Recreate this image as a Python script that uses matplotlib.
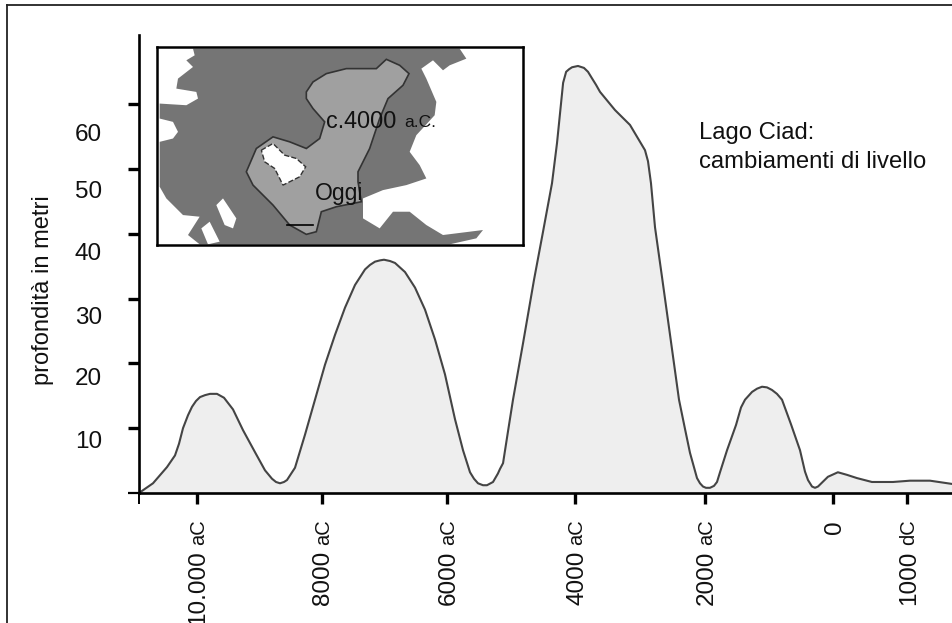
import numpy as np
import matplotlib
matplotlib.use('Agg')
import matplotlib.pyplot as plt
from matplotlib.lines import Line2D
from matplotlib.patches import Polygon

plt.rcParams['font.family'] = ['Liberation Sans', 'DejaVu Sans']

W, H = 952, 623

# lake level curve: year (negative = aC) and depth in metres
years = [-10920, -10696, -10472, -10344, -10280, -10216, -10136, -10072, -10008, -9944, -9864, -9784,
         -9672, -9560, -9416, -9256, -9064, -8904, -8792, -8728, -8664, -8600, -8552, -8424,
         -8264, -8104, -7944, -7784, -7624, -7464, -7304, -7224, -7144, -7064, -7000, -6904, -6824,
         -6664, -6504, -6344, -6184, -6024, -5868, -5743, -5634, -5572, -5510, -5432, -5370,
         -5276, -5200, -5168, -5120, -5043, -4965, -4809, -4638, -4498, -4358, -4280,
         -4233, -4185, -4138, -4092, -4046, -4000, -3954, -3862, -3800, -3739, -3677, -3615, -3385, -3154,
         -2923, -2877, -2831, -2769, -2661, -2538, -2400, -2308, -2231, -2123, -2077, -2031,
         -1985, -1922, -1859, -1812, -1765, -1655, -1514, -1436, -1373, -1263, -1185, -1107, -1029, -951, -873, -794, -653,
         -512, -434, -387, -324, -277, -230, -168, -75, 70, 193, 328, 530,
         814, 1045, 1315, 1612]
depth = [0.0, 1.5, 4.0, 5.8, 7.6, 10.0, 12.0, 13.3, 14.2, 14.8, 15.1, 15.3,
         15.3, 14.7, 12.9, 9.7, 6.3, 3.5, 2.2, 1.7, 1.5, 1.7, 2.0, 3.9,
         9.0, 14.4, 19.8, 24.4, 28.6, 32.1, 34.5, 35.2, 35.7, 35.9, 36.0, 35.8, 35.5,
         34.1, 31.7, 28.3, 23.7, 18.3, 11.4, 6.6, 3.2, 2.2, 1.5, 1.2, 1.2,
         1.7, 3.0, 3.7, 4.6, 9.5, 14.4, 23.1, 32.9, 40.3, 47.8, 54.0,
         58.6, 63.3, 65.0, 65.4, 65.7, 65.8, 65.9, 65.6, 65.0, 64.0, 63.0, 61.9, 59.1, 56.8,
         52.9, 51.2, 47.8, 41.0, 33.3, 24.4, 14.4, 9.9, 6.2, 2.3, 1.5, 1.0,
         0.8, 0.8, 1.1, 1.7, 3.2, 6.6, 10.5, 13.2, 14.4, 15.6, 16.1, 16.4, 16.3, 15.9, 15.3, 14.4, 10.6,
         6.6, 3.3, 2.0, 1.0, 0.8, 1.0, 1.6, 2.5, 3.2, 2.8, 2.3, 1.7,
         1.7, 1.9, 1.9, 1.4]

# the time axis of the original is not quite linear
scale_years = [-10920, -10000, -8000, -6000, -4000, -2000, 0, 1000, 1612]
scale_px = [139, 196.5, 321.5, 446.5, 575, 705, 832.7, 906.7, 952]

x_ticks = [-10920, -10000, -8000, -6000, -4000, -2000, 0, 1000]
x_numbers = ['', '10.000', '8000', '6000', '4000', '2000', '0', '1000']
x_suffix = ['', 'aC', 'aC', 'aC', 'aC', 'aC', '', 'dC']

y_ticks = [0, 10, 20, 30, 40, 50, 60]
y_numbers = ['10', '20', '30', '40', '50', '60']
y_number_px = [442, 379, 318, 254, 192, 135]

# map sketch, outlines in the inset's own units
land = [(130, 40), (930, 40), (950, 70), (900, 90), (880, 105), (850, 75), (815, 100), (830, 130),
        (860, 200), (855, 240), (800, 300), (780, 350), (810, 390), (830, 430), (770, 450), (700, 465),
        (640, 490), (640, 550), (690, 580), (730, 530), (780, 530), (830, 570), (880, 600), (1000, 585),
        (980, 610), (900, 628), (150, 628), (115, 600), (150, 545), (100, 540), (50, 490), (30, 455),
        (30, 320), (70, 310), (85, 290), (70, 260), (30, 250), (30, 205), (110, 210), (145, 190),
        (140, 170), (80, 160), (85, 130), (130, 95), (110, 75), (135, 60)]
islet_a = [(200, 510), (220, 490), (260, 550), (250, 580), (225, 570)]
islet_b = [(155, 580), (180, 560), (210, 620), (175, 628)]
lake = [(470, 170), (490, 140), (530, 115), (590, 100), (680, 100), (710, 72), (750, 90), (778, 115),
        (760, 150), (715, 190), (690, 250), (660, 340), (625, 410), (625, 440), (635, 500), (560, 515),
        (515, 530), (500, 590), (470, 598), (420, 570), (370, 510), (310, 450), (290, 410), (320, 340),
        (370, 305), (420, 320), (470, 340), (510, 310), (525, 260), (490, 220), (470, 190)]
lake_hole = [(335, 345), (370, 325), (405, 360), (440, 370), (468, 395), (450, 425), (410, 445),
             (400, 450), (375, 400), (345, 380)]


def fx(x):
    return x / W


def fy(y):
    return 1 - y / H


def forward(v):
    return np.interp(v, scale_years, scale_px)


def inverse(v):
    return np.interp(v, scale_px, scale_years)


fig = plt.figure(figsize=(W / 100, H / 100), dpi=100)

# outer frame, cut off by the image at right and bottom
fig.add_artist(Line2D([fx(7), fx(7)], [fy(4.5), 0], color='#222222', lw=1.3))
fig.add_artist(Line2D([fx(7), 1], [fy(4.5), fy(4.5)], color='#222222', lw=1.3))

ax = fig.add_axes([fx(139), fy(493), fx(952 - 139), (493 - 35) / H])
ax.set_xscale('function', functions=(forward, inverse))
ax.set_xlim(-10920, 1612)
ax.set_ylim(0, (493 - 35) / 6.48)
ax.patch.set_alpha(0)

ax.fill_between(years, depth, 0, color='#eeeeee', lw=0)
ax.plot(years, depth, color='#444444', lw=1.5, solid_joinstyle='round')

ax.spines['top'].set_visible(False)
ax.spines['right'].set_visible(False)
ax.spines['left'].set_linewidth(1.9)
ax.spines['bottom'].set_linewidth(1.9)

ax.set_xticks(x_ticks)
ax.set_xticklabels([])
ax.set_yticks(y_ticks)
ax.set_yticklabels([])
ax.tick_params(axis='both', which='major', length=8, width=2.4, color='black')
ax.minorticks_off()
ax.xaxis.get_major_ticks()[0].tick1line.set_markeredgewidth(1.4)
ax.yaxis.get_major_ticks()[0].tick1line.set_markeredgewidth(1.6)

# labels sit well away from their ticks in the original, so they are placed by hand
for year, num, suf in zip(x_ticks, x_numbers, x_suffix):
    x = float(forward(year)) + 2
    if suf:
        fig.text(fx(x), fy(550.5), num, rotation=90, ha='center', va='top', fontsize=17.5, color='#111111')
        fig.text(fx(x), fy(519), suf, rotation=90, ha='center', va='top', fontsize=14.5, color='#111111')
    elif num:
        fig.text(fx(x), fy(520), num, rotation=90, ha='center', va='top', fontsize=17.5, color='#111111')

for num, y in zip(y_numbers, y_number_px):
    fig.text(fx(102), fy(y), num, ha='right', va='center', fontsize=17.5, color='#111111')

fig.text(fx(43), fy(290), 'profondità in metri', rotation=90, ha='center', va='center',
         fontsize=17, color='#111111')
fig.text(fx(699), fy(133.5), 'Lago Ciad:', ha='left', va='center', fontsize=17.2, color='#111111')
fig.text(fx(699), fy(162), 'cambiamenti di livello', ha='left', va='center', fontsize=17.2, color='#111111')

# inset map
inset = fig.add_axes([fx(157), fy(245), fx(523 - 157), (245 - 47) / H])
inset.set_xlim(22, 1120)
inset.set_ylim(630, 35)
inset.set_xticks([])
inset.set_yticks([])
for s in inset.spines.values():
    s.set_linewidth(1.8)
inset.add_patch(Polygon(land, closed=True, facecolor='#757575', edgecolor='none'))
inset.add_patch(Polygon(islet_a, closed=True, facecolor='white', edgecolor='none'))
inset.add_patch(Polygon(islet_b, closed=True, facecolor='white', edgecolor='none'))
inset.add_patch(Polygon(lake, closed=True, facecolor='#a0a0a0', edgecolor='#333333', lw=1.2))
inset.add_patch(Polygon(lake_hole, closed=True, facecolor='white', edgecolor='#333333', lw=1.0, ls='--'))
inset.plot([412, 490], [570, 570], color='black', lw=1.2)
inset.text(530, 258, 'c.4000', ha='left', va='center', fontsize=16.8, color='#111111')
inset.text(765, 262, 'a.C.', ha='left', va='center', fontsize=12.5, color='#111111')
inset.text(497, 475, 'Oggi', ha='left', va='center', fontsize=16.5, color='#111111')

fig.savefig('out.png', dpi=100)
